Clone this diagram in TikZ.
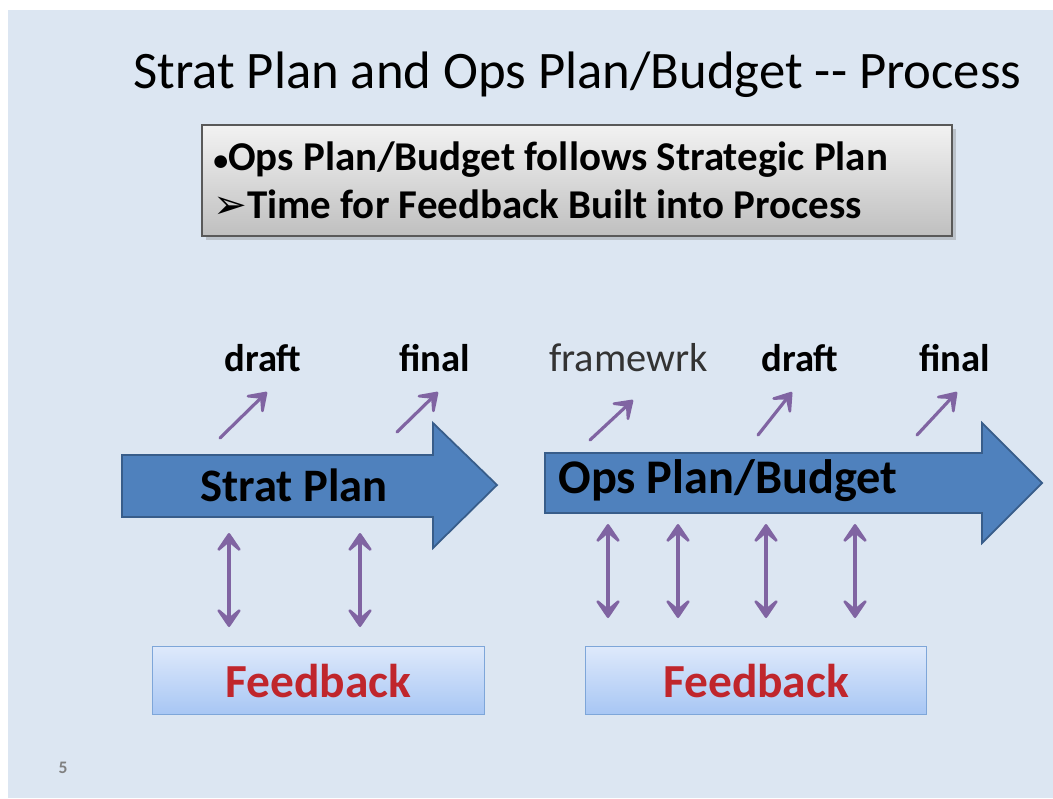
\documentclass[tikz,border=0pt]{standalone}
\usepackage{fontspec}
\setmainfont{Carlito}
\newfontfamily\dingfont{DejaVu Sans}
\usetikzlibrary{arrows.meta,shadows}

\definecolor{slidebg}{HTML}{DCE6F2}
\definecolor{arrowblue}{HTML}{4F81BD}
\definecolor{arrowedge}{HTML}{385D8A}
\definecolor{linkpurple}{HTML}{8064A2}
\definecolor{fbred}{HTML}{C0262C}
\definecolor{fbedge}{HTML}{7EA6D9}

\tikzset{
  bigarrow/.style={fill=arrowblue, draw=arrowedge, line width=1pt, line join=miter},
  notebox/.style={draw=black!65, line width=0.8pt, top color=black!5, bottom color=black!25,
    drop shadow={shadow xshift=2pt, shadow yshift=-2pt, opacity=0.35}},
  fbbox/.style={draw=fbedge, line width=0.7pt, top color={rgb,255:red,222;green,233;blue,251},
    bottom color={rgb,255:red,167;green,198;blue,244}, minimum width=6.64cm, minimum height=1.36cm,
    anchor=north west, font=\fontsize{27}{30}\selectfont\bfseries, text=fbred},
  stage/.style={anchor=base west, font=\fontsize{22}{25}\selectfont\bfseries, inner sep=0pt},
  barb/.tip={Stealth[length=14pt, width=19pt, inset=8pt, round]},
  link/.style={draw=linkpurple, line width=1.8pt, line cap=round, -barb},
  twoway/.style={link, barb-barb}
}

\begin{document}
\begin{tikzpicture}[x=0.02cm, y=-0.02cm]
  \useasboundingbox (0,0) rectangle (1053,798);
  \fill[white] (0,0) rectangle (1053,798);
  \fill[slidebg] (8,10) rectangle (1053,798);

  % title and note
  \node[anchor=base west, inner sep=0pt, font=\fontsize{30}{36}\selectfont] (title) at (133,88)
    {Strat Plan and Ops Plan/Budget -{}- Process};
  \path[notebox] (202,125) rectangle (952,236);
  \node[anchor=base west, inner sep=0pt, font=\fontsize{23.3}{28}\selectfont\bfseries] (n1) at (213,170)
    {{\fontsize{17}{20}\selectfont\textbullet}Ops Plan/Budget follows Strategic Plan};
  \node[anchor=base west, inner sep=0pt, font=\fontsize{23.3}{28}\selectfont\bfseries] (n2) at (213,218)
    {{\dingfont\fontsize{23}{28}\selectfont ➢}Time for Feedback Built into Process};

  % the two process arrows
  \draw[bigarrow] (122,455) -- (433,455) -- (433,423) -- (497,485) -- (433,548) -- (433,517) -- (122,517) -- cycle;
  \draw[bigarrow] (545,453) -- (982,453) -- (982,423) -- (1042,483) -- (982,543) -- (982,513) -- (545,513) -- cycle;
  \node[anchor=base west, inner sep=0pt, font=\fontsize{26.5}{30}\selectfont\bfseries] (sp) at (200,501) {Strat Plan};
  \node[anchor=base west, inner sep=0pt, font=\fontsize{27.5}{30}\selectfont\bfseries] (op) at (558,493) {Ops Plan/Budget};

  % outputs
  \node[stage] (d1) at (224,371) {draft};
  \node[stage] (f1) at (399,371) {final};
  \node[stage, font=\fontsize{23}{25}\selectfont, text=black!80] (w2) at (549,371) {framewrk};
  \node[stage] (d2) at (761,371) {draft};
  \node[stage] (f2) at (919,371) {final};

  \coordinate (a1) at (220,438);  \coordinate (b1) at (267,392);
  \coordinate (a2) at (397,432);  \coordinate (b2) at (438,392);
  \coordinate (a3) at (590,440);  \coordinate (b3) at (633,400);
  \coordinate (a4) at (758,435);  \coordinate (b4) at (792,392);
  \coordinate (a5) at (917,435);  \coordinate (b5) at (957,392);
  \foreach \i in {1,...,5}
    \draw[link] (a\i) -- (b\i);

  % feedback
  \node[fbbox] (fb1) at (152,646) {Feedback};
  \node[fbbox, minimum width=6.82cm] (fb2) at (585,646) {Feedback};

  \foreach \x in {229,360}
    \draw[twoway] (\x,533) -- (\x,627);
  \foreach \x in {608,678,766,855}
    \draw[twoway] (\x,524) -- (\x,618);

  \node[font=\fontsize{10}{12}\selectfont\bfseries, text=black!50] (pg) at (63,768) {5};
\end{tikzpicture}
\end{document}
